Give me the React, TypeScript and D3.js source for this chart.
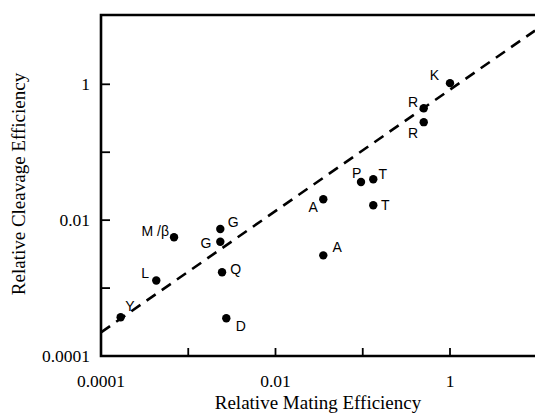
import * as d3 from "d3";
import React, { useEffect, useRef } from "react";

// mutant residue labels, mating efficiency (x) and cleavage efficiency (y)
const residues = ["K", "R", "R", "P", "T", "T", "A", "A", "M /β", "G", "G", "Q", "L", "Y", "D"];
const matingEff = [1.0, 0.5, 0.5, 0.0955, 0.132, 0.132, 0.0353, 0.0353, 0.000687, 0.00233, 0.00233, 0.00244, 0.00043, 0.000168, 0.00273];
const cleavageEff = [1.04, 0.445, 0.277, 0.0365, 0.04, 0.0166, 0.0203, 0.00303, 0.0056, 0.0074, 0.00482, 0.00171, 0.00129, 0.000372, 0.000359];

// dashed reference line end points
const fitX = [0.0001, 9.42];
const fitY = [0.000223, 6.18];

const tickValues = [0.0001, 0.001, 0.01, 0.1, 1, 10];
const tickLabels = ["0.0001", "", "0.01", "", "1", ""];

// where each label sits relative to its dot (layout only)
const labelOffsets = [
  [-15.7, -8.3], [-10.7, -6.6], [-10.7, 10.4], [-4.3, -8.7], [9.4, -5.3], [12, 0],
  [-10, 7.4], [14, -7.9], [-18.7, -5.8], [13, -7.3], [-14.3, 1.6], [13.7, -3.3],
  [-11, -7.4], [9.3, -11.3], [14.4, 7.4],
];

export default function App() {
  const ref = useRef<SVGSVGElement>(null);

  useEffect(() => {
    const width = 535;
    const height = 413;
    const left = 101, right = 535, top = 15, bottom = 356;

    const svg = d3.select(ref.current);
    svg.selectAll("*").remove();
    svg.attr("width", width).attr("height", height);

    const x = d3.scaleLog().domain([0.0001, 1]).range([101, 450]);
    const y = d3.scaleLog().domain([0.0001, 1]).range([356, 84.3]);

    svg.append("clipPath").attr("id", "plot-clip")
      .append("rect").attr("x", left).attr("y", top)
      .attr("width", right - left).attr("height", bottom - top);

    // dashed line
    svg.append("line")
      .attr("clip-path", "url(#plot-clip)")
      .attr("x1", x(fitX[0])).attr("y1", y(fitY[0]))
      .attr("x2", x(fitX[1])).attr("y2", y(fitY[1]))
      .attr("stroke", "#000").attr("stroke-width", 2.6)
      .attr("stroke-dasharray", "11,7.5");

    // frame
    const frame = svg.append("g").attr("stroke", "#000").attr("stroke-width", 2.6).attr("fill", "none");
    frame.append("path").attr("d", `M${right},${top}H${left}V${bottom}H${right}`);

    // ticks (inward)
    const tickG = svg.append("g").attr("stroke", "#000").attr("stroke-width", 1.8);
    tickValues.forEach((v) => {
      const px = x(v);
      if (px > left + 2 && px < right - 2) {
        tickG.append("line").attr("x1", px).attr("x2", px).attr("y1", bottom).attr("y2", bottom - 8);
      }
      const py = y(v);
      if (py < bottom - 2 && py > top + 2) {
        tickG.append("line").attr("x1", left).attr("x2", left + 9).attr("y1", py).attr("y2", py);
      }
    });

    const serif = "'Liberation Serif', 'Times New Roman', serif";
    tickValues.forEach((v, i) => {
      if (!tickLabels[i]) return;
      svg.append("text")
        .attr("x", x(v)).attr("y", 387)
        .attr("text-anchor", "middle")
        .attr("font-family", serif).attr("font-size", 17.5)
        .text(tickLabels[i]);
      svg.append("text")
        .attr("x", 90).attr("y", y(v) + 6)
        .attr("text-anchor", "end")
        .attr("font-family", serif).attr("font-size", 17.5)
        .text(tickLabels[i]);
    });

    svg.append("text")
      .attr("x", 318).attr("y", 408.5)
      .attr("text-anchor", "middle")
      .attr("font-family", serif).attr("font-size", 19)
      .text("Relative Mating Efficiency");

    svg.append("text")
      .attr("transform", "translate(25,184) rotate(-90)")
      .attr("text-anchor", "middle")
      .attr("font-family", serif).attr("font-size", 19)
      .text("Relative Cleavage Efficiency");

    // points
    const pts = svg.append("g");
    residues.forEach((r, i) => {
      const cx = x(matingEff[i]);
      const cy = y(cleavageEff[i]);
      pts.append("circle").attr("cx", cx).attr("cy", cy).attr("r", 4.2).attr("fill", "#000");
      pts.append("text")
        .attr("x", cx + labelOffsets[i][0]).attr("y", cy + labelOffsets[i][1])
        .attr("text-anchor", "middle")
        .attr("dominant-baseline", "central")
        .attr("font-family", "'Liberation Sans', Arial, sans-serif")
        .attr("font-size", 14)
        .text(r);
    });
  }, []);

  return (
    <svg ref={ref} style={{ position: "absolute", left: 0, top: 0, background: "#fff" }}></svg>
  );
}
